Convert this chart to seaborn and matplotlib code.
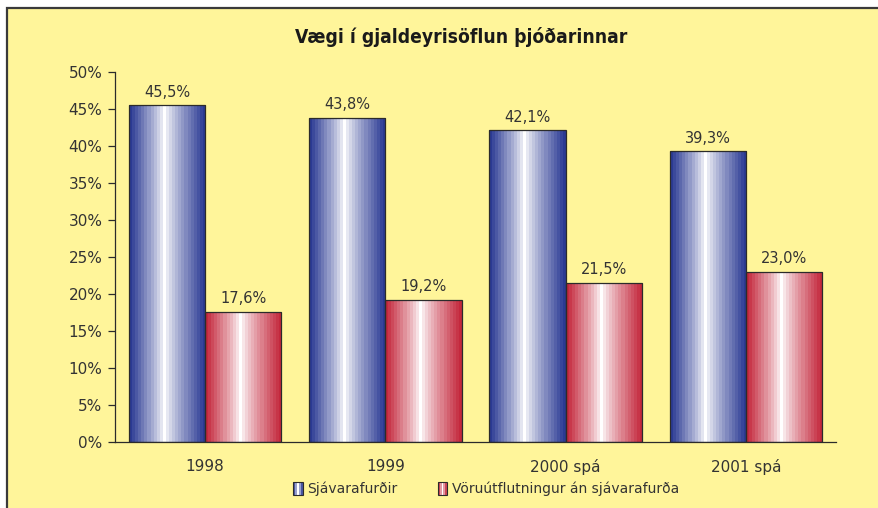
import numpy as np
import pandas as pd
import matplotlib
matplotlib.use("Agg")
import matplotlib.pyplot as plt
import seaborn as sns
from matplotlib.patches import Rectangle
from matplotlib.legend_handler import HandlerBase
from matplotlib.ticker import FixedLocator, FuncFormatter

# Gögn
ar = ["1998", "1999", "2000 spá", "2001 spá"]
sjavarafurdir = [45.5, 43.8, 42.1, 39.3]
voruutfl = [17.6, 19.2, 21.5, 23.0]
flokkar = ["Sjávarafurðir", "Vöruútflutningur án sjávarafurða"]
y_ticks = [0, 5, 10, 15, 20, 25, 30, 35, 40, 45, 50]

df = pd.DataFrame({
    "Ár": ar * 2,
    "Gildi": sjavarafurdir + voruutfl,
    "Flokkur": [flokkar[0]] * len(ar) + [flokkar[1]] * len(ar),
})

GULT = "#FFF59A"
TEXTI = "#333333"
DOKKT = {flokkar[0]: np.array([0.17, 0.23, 0.58]), flokkar[1]: np.array([0.77, 0.16, 0.24])}


def stripes(dark, n=25, white_at=0.46):
    # röndóttur litastigull: dökkt við jaðra, hvítt rétt vinstra megin við miðju
    t = (np.arange(n) + 0.5) / n
    d = np.where(t < white_at, (white_at - t) / white_at, (t - white_at) / (1 - white_at))
    mix = np.clip(d * 1.05, 0, 1) ** 0.85
    rgb = (1 - mix)[:, None] * np.ones(3) + mix[:, None] * dark
    return rgb


sns.set_style("white")
plt.rcParams["font.family"] = ["DejaVu Sans"]

fig = plt.figure(figsize=(8.79, 5.08), dpi=100)
fig.patch.set_facecolor("white")
fig.patches.append(Rectangle((7.5 / 879, -0.05), 1.1, 1 - 8.5 / 508 + 0.05,
                             transform=fig.transFigure, facecolor=GULT,
                             edgecolor="#3a3a3a", linewidth=1.6, zorder=-10))

ax = fig.add_axes([115 / 879, 1 - 442 / 508, (836 - 115) / 879, (442 - 72) / 508])
ax.set_facecolor(GULT)

sns.barplot(data=df, x="Ár", y="Gildi", hue="Flokkur", hue_order=flokkar,
            palette=["#2A3A8F", "#C02A3C"], width=0.845, ax=ax, legend=False)

for cont, fl in zip(ax.containers, flokkar):
    cols = stripes(DOKKT[fl])
    for bar in cont:
        x, w, h = bar.get_x(), bar.get_width(), bar.get_height()
        im = ax.imshow(cols[None, :, :], extent=[x, x + w, 0, h], aspect="auto",
                       interpolation="nearest", zorder=2)
        im.set_clip_path(bar)
        bar.set_facecolor("none")
        bar.set_edgecolor("#2b2b2b")
        bar.set_linewidth(0.9)
        bar.set_zorder(3)
    ax.bar_label(cont, labels=[f"{v:.1f}%".replace(".", ",") for v in cont.datavalues],
                 padding=4, fontsize=10.5, color=TEXTI)

ax.set_xlim(-0.5, len(ar) - 0.5)
ax.set_ylim(0, 50)
ax.yaxis.set_major_locator(FixedLocator(y_ticks))
ax.yaxis.set_major_formatter(FuncFormatter(lambda v, p: f"{v:.0f}%"))
ax.set_xlabel("")
ax.set_ylabel("")
for s in ["top", "right"]:
    ax.spines[s].set_visible(False)
for s in ["left", "bottom"]:
    ax.spines[s].set_color("#2b2b2b")
    ax.spines[s].set_linewidth(0.9)
ax.xaxis.set_minor_locator(FixedLocator(np.arange(-0.5, len(ar), 1.0)))
ax.tick_params(axis="x", which="major", length=0, pad=12, labelsize=11, labelcolor=TEXTI)
ax.tick_params(axis="x", which="minor", length=5, width=0.9, color="#2b2b2b", direction="out")
ax.tick_params(axis="y", length=5, width=0.9, color="#2b2b2b", direction="out",
               labelsize=11, labelcolor=TEXTI, pad=4, left=True)

fig.text(461 / 879, 1 - 37 / 508, "Vægi í gjaldeyrisöflun þjóðarinnar",
         ha="center", va="center", fontsize=13.8, fontweight="heavy",
         fontstretch="condensed", color="#1a1a1a")


class HandlerStripes(HandlerBase):
    def __init__(self, dark):
        super().__init__()
        self.dark = dark

    def create_artists(self, legend, orig_handle, xdescent, ydescent, width, height, fontsize, trans):
        cols = stripes(self.dark, n=5, white_at=0.5)
        arts = []
        w = width / len(cols)
        for i, c in enumerate(cols):
            arts.append(Rectangle((-xdescent + i * w, -ydescent), w, height,
                                  facecolor=c, edgecolor="none", transform=trans))
        arts.append(Rectangle((-xdescent, -ydescent), width, height, facecolor="none",
                              edgecolor="#2b2b2b", linewidth=0.8, transform=trans))
        return arts


h1 = Rectangle((0, 0), 1, 1)
h2 = Rectangle((0, 0), 1, 1)
fig.legend([h1, h2], flokkar, loc="center", bbox_to_anchor=(486 / 879, 1 - 489 / 508),
           ncol=2, frameon=False, fontsize=10, labelcolor=TEXTI,
           handlelength=0.7, handleheight=1.0, handletextpad=0.3, columnspacing=2.9,
           handler_map={h1: HandlerStripes(DOKKT[flokkar[0]]), h2: HandlerStripes(DOKKT[flokkar[1]])})

fig.savefig("out.png", dpi=100, facecolor=fig.get_facecolor())
